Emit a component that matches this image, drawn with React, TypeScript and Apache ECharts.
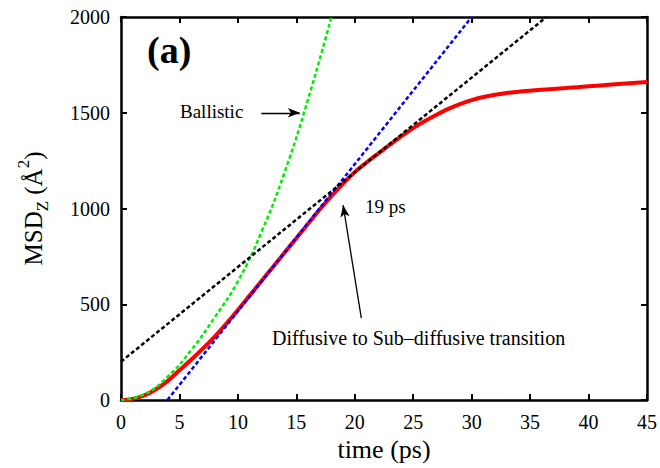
import React, { useEffect, useRef } from "react";
import * as echarts from "echarts";

const xTicks = [0, 5, 10, 15, 20, 25, 30, 35, 40, 45];
const yTicks = [0, 500, 1000, 1500, 2000];

const redTime = [0, 1, 2, 3, 4, 5, 6, 7, 8, 9, 10, 11, 12, 13, 14, 15, 16, 17, 18, 19, 20, 21, 22, 23, 24, 25, 26, 27, 28, 29, 30, 31, 32, 33, 34, 36, 38, 40, 42, 45];
const redMsd = [0, 6, 24, 56, 100, 155, 210, 268, 330, 398, 470, 545, 620, 695, 770, 845, 920, 995, 1065, 1130, 1190, 1240, 1287, 1333, 1378, 1420, 1457, 1490, 1520, 1545, 1566, 1582, 1594, 1603, 1610, 1620, 1629, 1638, 1647, 1660];

const greenTime = [0, 2, 4, 6, 8, 10, 12, 14, 16, 18];
const greenMsd = [0, 30, 122, 260, 430, 620, 875, 1190, 1570, 2000];

const blueTime = [3.97, 30];
const blueMsd = [0, 2000];

const blackTime = [0, 36.4];
const blackMsd = [200, 2000];

const ballisticArrow = [[12, 1500], [15.3, 1500]];
const transitionArrow = [[20.56, 428], [19.0, 1018]];

const FONT = "'Liberation Serif', 'Times New Roman', serif";

const zip = (a: number[], b: number[]) => a.map((v, i) => [v, b[i]]);

export default function App() {
  const ref = useRef<HTMLDivElement>(null);
  useEffect(() => {
    if (!ref.current) return;
    const chart = echarts.init(ref.current, null, { renderer: "svg" });
    const axisLine = { show: true, onZero: false, lineStyle: { color: "#000", width: 2.5 } };
    const axisTick = { show: true, inside: true, length: 6, lineStyle: { color: "#000", width: 2 } };
    const label = { color: "#000", fontFamily: FONT, fontSize: 20, fontWeight: "normal", formatter: (v: number) => String(v) };
    const dash = (color: string) => ({ color, width: 2.5, type: [4, 2.5] as any });
    chart.setOption({
      animation: false,
      backgroundColor: "#fff",
      textStyle: { fontFamily: FONT, color: "#000" },
      grid: { left: 121, top: 17, right: 12, bottom: 68 },
      xAxis: [
        {
          type: "value", min: xTicks[0], max: xTicks[xTicks.length - 1], interval: 5, position: "bottom",
          axisLine, axisTick, splitLine: { show: false },
          axisLabel: { ...label, margin: 12 },
          name: "time (ps)", nameLocation: "middle", nameGap: 34,
          nameTextStyle: { color: "#000", fontFamily: FONT, fontSize: 26, fontWeight: "normal" },
        },
        {
          type: "value", min: xTicks[0], max: xTicks[xTicks.length - 1], interval: 5, position: "top",
          axisLine, axisTick, splitLine: { show: false }, axisLabel: { show: false },
        },
      ],
      yAxis: [
        {
          type: "value", min: yTicks[0], max: yTicks[yTicks.length - 1], interval: 500, position: "left",
          axisLine, axisTick, splitLine: { show: false },
          axisLabel: { ...label, margin: 11 },
          name: "{a|MSD}{sub|Z}{a| (Å}{sup|2}{a|)}", nameLocation: "middle", nameGap: 70, nameRotate: 90,
          nameTextStyle: {
            color: "#000", fontFamily: FONT, fontSize: 25, fontWeight: "normal",
            rich: {
              a: { color: "#000", fontFamily: FONT, fontSize: 25, lineHeight: 36, verticalAlign: "middle" },
              sub: { color: "#000", fontFamily: FONT, fontSize: 17, lineHeight: 17, verticalAlign: "bottom" },
              sup: { color: "#000", fontFamily: FONT, fontSize: 17, lineHeight: 17, verticalAlign: "top" },
            },
          },
        },
        {
          type: "value", min: yTicks[0], max: yTicks[yTicks.length - 1], interval: 500, position: "right",
          axisLine, axisTick, splitLine: { show: false }, axisLabel: { show: false },
        },
      ],
      series: [
        {
          type: "line", data: zip(redTime, redMsd), smooth: 0.35, showSymbol: false,
          lineStyle: { color: "#ff0000", width: 4 }, z: 2,
        },
        {
          type: "line", data: zip(greenTime, greenMsd), smooth: true, showSymbol: false,
          lineStyle: dash("#00ee00"), z: 3,
        },
        {
          type: "line", data: zip(blueTime, blueMsd), showSymbol: false,
          lineStyle: dash("#0000ff"), z: 3,
        },
        {
          type: "line", data: zip(blackTime, blackMsd), showSymbol: false,
          lineStyle: dash("#000000"), z: 3,
        },
        {
          type: "line", data: [], z: 4,
          markLine: {
            silent: true, symbol: ["none", "arrow"], symbolSize: [7, 12],
            lineStyle: { color: "#000", width: 1.3, type: "solid" },
            label: { show: false },
            data: [
              [{ coord: ballisticArrow[0] }, { coord: ballisticArrow[1] }],
              [{ coord: transitionArrow[0] }, { coord: transitionArrow[1] }],
            ],
          },
        },
      ],
      graphic: [
        { type: "text", left: 147, top: 31, style: { text: "(a)", font: `bold 38px ${FONT}`, fill: "#000" } },
        { type: "text", left: 180, top: 102, style: { text: "Ballistic", font: `19px ${FONT}`, fill: "#000" } },
        { type: "text", left: 365, top: 197, style: { text: "19 ps", font: `19px ${FONT}`, fill: "#000" } },
        { type: "text", left: 272, top: 328, style: { text: "Diffusive to Sub\u2013diffusive transition", font: `20px ${FONT}`, fill: "#000" } },
      ],
    });
    return () => chart.dispose();
  }, []);
  return <div ref={ref} style={{ position: "fixed", left: 0, top: 0, width: 660, height: 468, background: "#fff" }} />;
}
